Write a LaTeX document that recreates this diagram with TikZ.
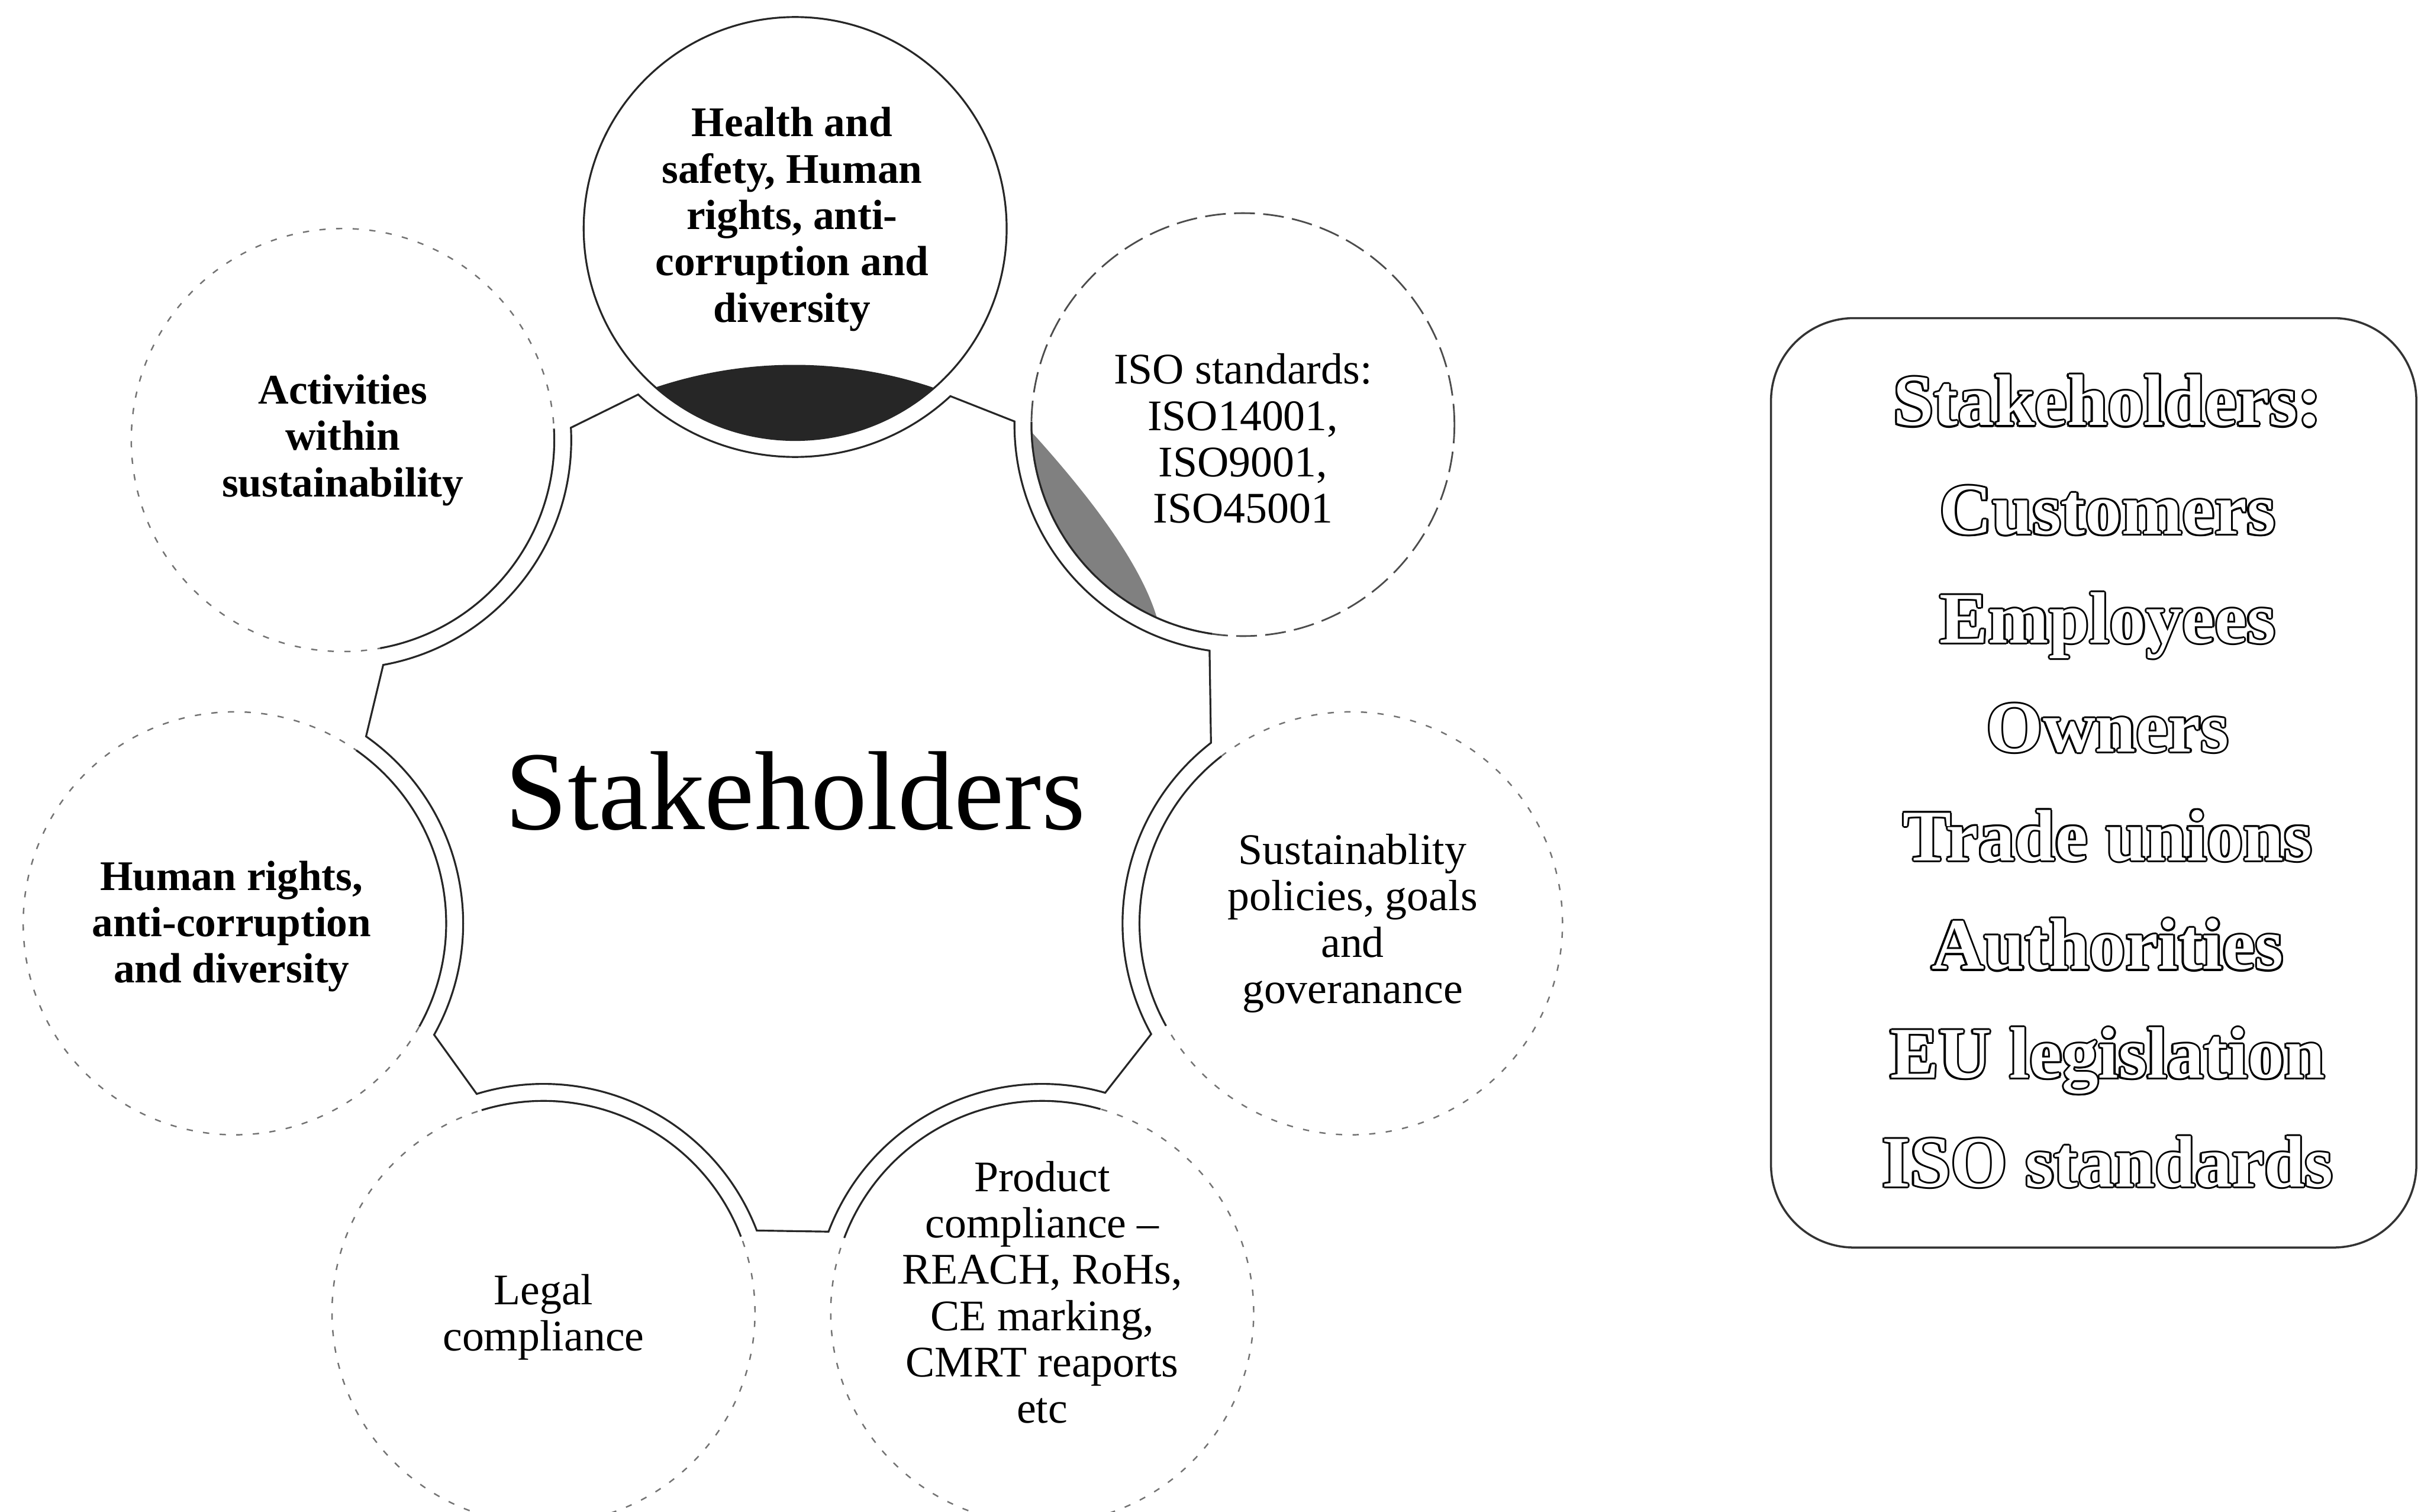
\documentclass[tikz,border=0pt]{standalone}
\usepackage{fontspec}
\setmainfont{Liberation Serif}
\usetikzlibrary{calc}
\newcommand\oltext[1]{%
  \makebox[0pt][l]{\color{black}\hspace*{0.9pt}#1}%
  \makebox[0pt][l]{\color{black}\hspace*{-0.9pt}#1}%
  \makebox[0pt][l]{\color{black}\raisebox{0.9pt}{#1}}%
  \makebox[0pt][l]{\color{black}\raisebox{-0.9pt}{#1}}%
  \makebox[0pt][l]{\color{black}\hspace*{0.65pt}\raisebox{0.65pt}{#1}}%
  \makebox[0pt][l]{\color{black}\hspace*{-0.65pt}\raisebox{0.65pt}{#1}}%
  \makebox[0pt][l]{\color{black}\hspace*{0.65pt}\raisebox{-0.65pt}{#1}}%
  \makebox[0pt][l]{\color{black}\hspace*{-0.65pt}\raisebox{-0.65pt}{#1}}%
  {\color{white}#1}}
\begin{document}
\begin{tikzpicture}[x=0.02609cm,y=0.02609cm,
  bub/.style={circle,minimum size=7.148cm,inner sep=0pt},
  faint/.style={draw=black!55,line width=0.7pt,dash pattern=on 3pt off 5pt},
  firm/.style={draw=black!85,line width=0.9pt},
  btxt/.style={align=center,font=\fontsize{20.3}{22.3}\selectfont\bfseries,inner sep=0pt},
  rtxt/.style={align=center,font=\fontsize{21}{22.3}\selectfont,inner sep=0pt},
  hub/.style={draw=black!85,line width=0.9pt}
]
\useasboundingbox (0,0) rectangle (1568,-979);
\def\Ro{3.861cm}
\def\ri{3.574cm}
% centres
\coordinate (cH) at (515,-148);
\coordinate (cI) at (805,-275);
\coordinate (cA) at (222,-285);
\coordinate (cHR) at (152,-598);
\coordinate (cS) at (875,-598);
\coordinate (cL) at (352,-850);
\coordinate (cP) at (675,-850);
% shaded areas
\fill[black!85] ([shift={(-131.5:\ri)}]cH) arc[start angle=-131.5,end angle=-48.9,radius=\ri]
  arc[start angle=71.3,end angle=108.5,radius=7.383cm] -- cycle;
\fill[black!50] ([shift={(-178:\ri)}]cI) arc[start angle=-178,end angle=-114,radius=\ri]
  .. controls ([shift={(-128:2.85cm)}]cI) and ([shift={(-160:2.95cm)}]cI) .. ([shift={(-178:\ri)}]cI) -- cycle;
% central shape
\draw[hub] ([shift={(-133.4:\Ro)}]cH) arc[start angle=-133.4,end angle=-47.2,radius=\Ro]
  -- ([shift={(-180.8:\Ro)}]cI) arc[start angle=-180.8,end angle=-98.4,radius=\Ro]
  -- ([shift={(127.8:\Ro)}]cS) arc[start angle=127.8,end angle=209,radius=\Ro]
  -- ([shift={(74:\Ro)}]cP) arc[start angle=74,end angle=159.3,radius=\Ro]
  -- ([shift={(21:\Ro)}]cL) arc[start angle=21,end angle=107,radius=\Ro]
  -- ([shift={(-29.2:\Ro)}]cHR) arc[start angle=-29.2,end angle=54.9,radius=\Ro]
  -- ([shift={(-79.8:\Ro)}]cA) arc[start angle=-79.8,end angle=3.1,radius=\Ro]
  -- cycle;
% circles
\node[bub,firm] (H) at (cH) {};
\node[bub,draw=black!70,line width=0.8pt,dash pattern=on 10pt off 4pt] (I) at (cI) {};
\node[bub,faint] (A) at (cA) {};
\node[bub,faint] (HR) at (cHR) {};
\node[bub,faint] (S) at (cS) {};
\node[bub,faint] (L) at (cL) {};
\node[bub,faint] (P) at (cP) {};
% inner solid arcs of the circles
\draw[firm] ([shift={(-180.8:\ri)}]I.center) arc[start angle=-180.8,end angle=-98.4,radius=\ri];
\draw[firm] ([shift={(127.8:\ri)}]S.center) arc[start angle=127.8,end angle=209,radius=\ri];
\draw[firm] ([shift={(74:\ri)}]P.center) arc[start angle=74,end angle=159.3,radius=\ri];
\draw[firm] ([shift={(21:\ri)}]L.center) arc[start angle=21,end angle=107,radius=\ri];
\draw[firm] ([shift={(-29.2:\ri)}]HR.center) arc[start angle=-29.2,end angle=54.9,radius=\ri];
\draw[firm] ([shift={(-79.8:\ri)}]A.center) arc[start angle=-79.8,end angle=3.1,radius=\ri];
% texts
\node[btxt] (Ht) at (513,-142) {Health and\\safety, Human\\rights, anti-\\corruption and\\diversity};
\node[rtxt] (It) at (805,-284) {ISO standards:\\ISO14001,\\ISO9001,\\ISO45001};
\node[btxt] (At) at (222,-285) {Activities\\within\\sustainability};
\node[btxt] (HRt) at (150,-600) {Human rights,\\anti-corruption\\and diversity};
\node[rtxt] (St) at (876,-598) {Sustainablity\\policies, goals\\and\\goveranance};
\node[rtxt] (Lt) at (352,-853) {Legal\\compliance};
\node[rtxt] (Pt) at (675,-837) {Product\\compliance –\\REACH, RoHs,\\CE marking,\\CMRT reaports\\etc};
\node[anchor=base,font=\fontsize{54}{60}\selectfont,inner sep=0pt] (hubt) at (515,-537) {Stakeholders};
% list box
\node[draw=black!80,line width=1pt,rounded corners=1.4cm,minimum width=10.906cm,minimum height=15.706cm,inner sep=0pt] (box) at (1356,-507) {};
\node[align=center,inner sep=0pt,font=\fontsize{35}{52.3}\selectfont\bfseries] (list) at (1365,-506)
  {\oltext{Stakeholders:}\\\oltext{Customers}\\\oltext{Employees}\\\oltext{Owners}\\\oltext{Trade unions}\\\oltext{Authorities}\\\oltext{EU legislation}\\\oltext{ISO standards}};
\end{tikzpicture}
\end{document}
